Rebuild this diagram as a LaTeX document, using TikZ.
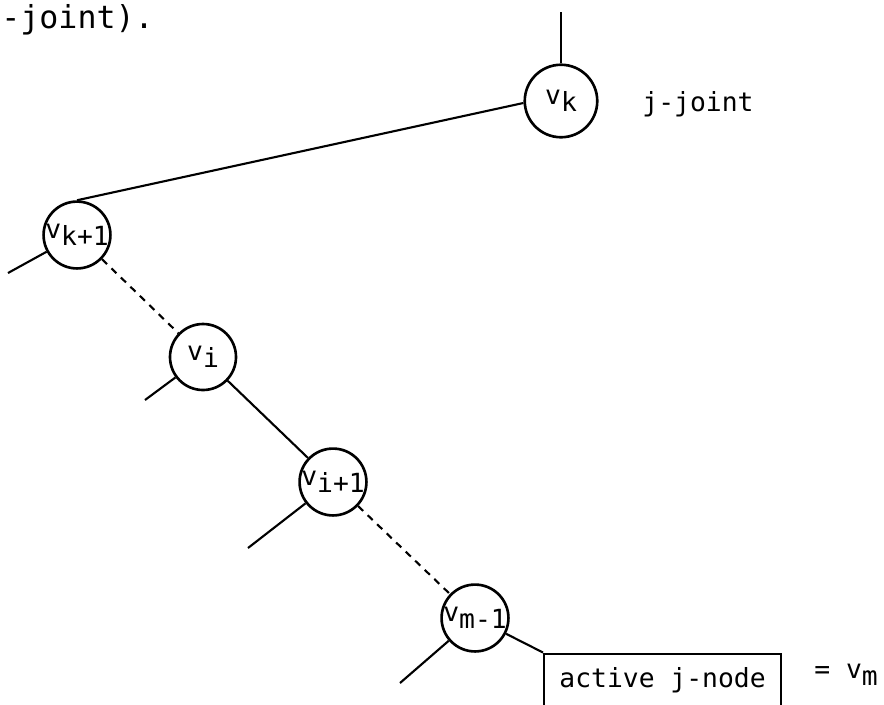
\documentclass[tikz,border=0pt]{standalone}
\usepackage{fontspec}
\setmonofont{DejaVu Sans Mono}
\newcommand{\vsub}[1]{v\raisebox{-0.5ex}{#1}}
\begin{document}
\begin{tikzpicture}[
    vnode/.style={shape=circle,draw,line width=1.5pt,minimum size=1.28cm,inner sep=0pt,
        font=\ttfamily\fontsize{15}{17}\selectfont},
    edge/.style={line width=1.2pt},
    gap/.style={line width=1.2pt,dash pattern=on 4pt off 3.5pt},
    txt/.style={font=\ttfamily\fontsize{15}{17}\selectfont}]
\useasboundingbox (0,0) rectangle (17.68,-14.08);
%%%% Text above the picture
    \node[anchor=west,inner sep=0pt,font=\ttfamily\fontsize{18}{20}\selectfont] (head) at (0.02,-0.4) {-joint).};
%%%% Add nodes for the path
    \node[vnode,minimum size=1.45cm] (vk) at (11.22,-2.02) {\vsub{k}};
    \node[vnode] (vk1) at (1.54,-4.70) {\vsub{k+1}};
    \node[vnode,minimum size=1.32cm] (vi) at (4.06,-7.14) {\vsub{i}};
    \node[vnode] (vi1) at (6.66,-9.64) {\vsub{i+1}};
    \node[vnode] (vm1) at (9.50,-12.36) {\vsub{m-1}};
    \node[draw,edge,txt,anchor=north west,minimum width=4.74cm,minimum height=1.06cm] (active) at (10.86,-13.05) {active j-node};
%%%% Add labels
    \node[txt] (jjoint) at (13.96,-2.08) {j-joint};
    \node[txt] (vm) at (16.92,-13.5) {= \vsub{m}};
%%%% Add free ends
    \coordinate (top) at (11.22,-0.24);
    \coordinate (l1) at (0.16,-5.46);
    \coordinate (l2) at (2.90,-8.00);
    \coordinate (l3) at (4.96,-10.96);
    \coordinate (l4) at (8.00,-13.66);
%%%% Add edges between nodes
    \draw[edge] (top) -- (vk);
    \draw[edge] (vk.183) -- (vk1.north);
    \draw[gap] (vk1) -- (vi);
    \draw[edge] (vi) -- (vi1);
    \draw[gap] (vi1) -- (vm1);
    \draw[edge] (vm1) -- (active.north west);
%%%% Add side edges
    \draw[edge] (vk1) -- (l1);
    \draw[edge] (vi) -- (l2);
    \draw[edge] (vi1) -- (l3);
    \draw[edge] (vm1) -- (l4);
\end{tikzpicture}
\end{document}
